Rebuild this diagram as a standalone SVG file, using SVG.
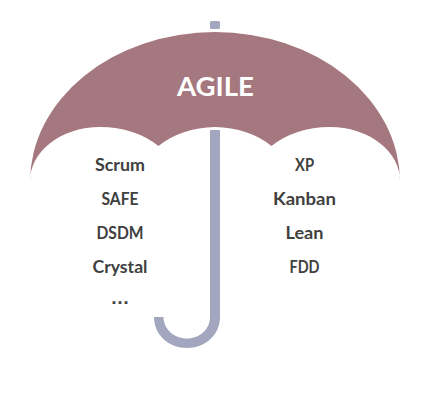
<svg xmlns="http://www.w3.org/2000/svg" width="426" height="406" viewBox="0 0 426 406">
<style>
.t{font-family:"Lato","Liberation Sans",sans-serif;font-weight:700;font-size:16.5px;fill:#404040;text-anchor:middle}
.s{fill:#A2A6BE}
</style>
<rect width="426" height="406" fill="#fff"/>
<g id="umbrella">
<rect class="s" x="210" y="21" width="10" height="8" rx="1.5"/>
<path id="canopy" fill="#A5787F" d="M30 182A185 150 0 0 1 400 182A70 54 0 0 0 330 127A76 54 0 0 0 271.500 146A76 54 0 0 0 215 127A76 54 0 0 0 158.500 146A76 54 0 0 0 100 127A70 54 0 0 0 30 182Z"/>
<path class="s" d="M210 131Q210 130 211 130H219Q220 130 220 131V317C220 335 205 348 187 348C169 348 154 335 154 317H163.500C163.500 329 174 338.500 187 338.500C200 338.500 210 329 210 317Z"/>
</g>
<text x="215.500" y="96" font-family="Lato,'Liberation Sans',sans-serif" font-weight="700" font-size="27" fill="#fff" text-anchor="middle" textLength="77" lengthAdjust="spacingAndGlyphs">AGILE</text>
<g id="left">
<text class="t" x="120" y="171" textLength="50" lengthAdjust="spacingAndGlyphs">Scrum</text>
<text class="t" x="120" y="205" textLength="37" lengthAdjust="spacingAndGlyphs">SAFE</text>
<text class="t" x="120" y="239" textLength="47" lengthAdjust="spacingAndGlyphs">DSDM</text>
<text class="t" x="120" y="273" textLength="55" lengthAdjust="spacingAndGlyphs">Crystal</text>
<text x="120" y="304" font-family="'Liberation Sans',sans-serif" font-weight="700" font-size="19" fill="#404040" text-anchor="middle">…</text>
</g>
<g id="right">
<text class="t" x="304.500" y="171" textLength="19" lengthAdjust="spacingAndGlyphs">XP</text>
<text class="t" x="304.500" y="205" textLength="63" lengthAdjust="spacingAndGlyphs">Kanban</text>
<text class="t" x="304.500" y="239" textLength="38" lengthAdjust="spacingAndGlyphs">Lean</text>
<text class="t" x="304.500" y="273" textLength="30" lengthAdjust="spacingAndGlyphs">FDD</text>
</g>
</svg>
